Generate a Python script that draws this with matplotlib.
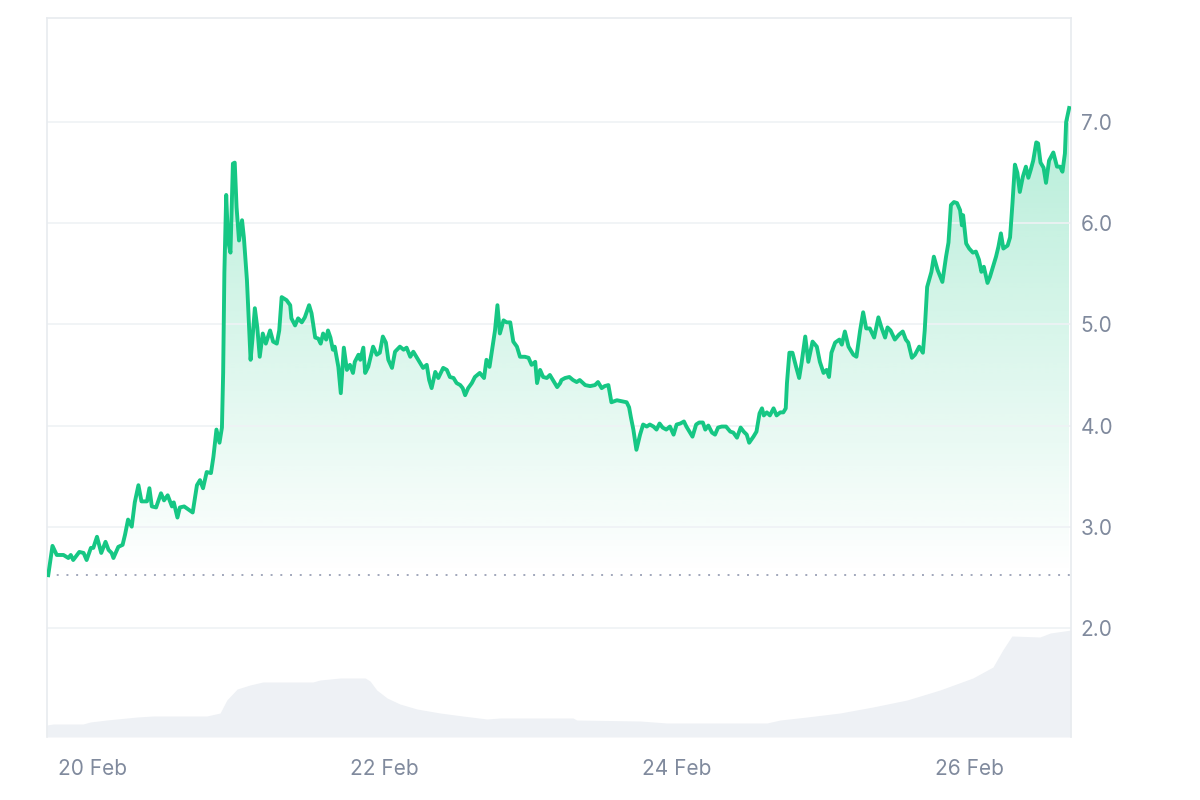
import numpy as np
import pandas as pd
import matplotlib
matplotlib.use('Agg')
import matplotlib.pyplot as plt
import matplotlib.dates as mdates
from matplotlib.patches import PathPatch

plt.rcParams['font.family'] = ['Inter', 'DejaVu Sans']

# 7 day price chart, hours since the first sample
start = pd.Timestamp('2024-02-19 16:37')

price_hours = [
    0.2, 0.9, 1.6, 2.7, 3.5, 3.9, 4.3, 5.3, 6.0, 6.5, 7.2, 7.6, 8.2, 8.9, 9.6, 10.1,
    10.6, 10.9, 11.7, 12.4, 12.8, 13.3, 13.9, 14.4, 15.0, 15.5, 16.4, 16.8, 17.2, 17.9,
    18.7, 19.2, 19.8, 20.5, 20.8, 21.4, 21.8, 22.5, 23.2, 23.9, 24.6, 25.1, 25.6, 26.2,
    26.9, 27.3, 27.8, 28.3, 28.7, 28.9, 29.1, 29.4, 29.7, 30.1, 30.5, 30.8, 31.1, 31.5,
    32.0, 32.3, 32.8, 33.4, 33.7, 34.1, 34.5, 34.9, 35.4, 35.9, 36.6, 37.1, 37.7, 38.1,
    38.5, 39.3, 39.9, 40.1, 40.7, 41.2, 41.8, 42.3, 43.0, 43.4, 44.0, 44.5, 44.9, 45.3,
    45.8, 46.1, 46.5, 46.9, 47.2, 47.8, 48.2, 48.7, 49.2, 49.7, 50.2, 50.5, 51.1, 51.4,
    51.9, 52.2, 52.7, 53.5, 54.1, 54.6, 55.1, 55.6, 56.0, 56.6, 57.1, 57.9, 58.5, 59.0,
    59.6, 60.1, 60.7, 61.2, 61.7, 62.3, 62.7, 63.1, 63.7, 64.2, 65.0, 65.6, 66.1, 66.7,
    67.2, 67.8, 68.2, 68.6, 69.1, 69.7, 70.2, 71.0, 71.7, 72.1, 72.6, 73.1, 73.5, 73.9,
    74.3, 74.9, 75.4, 76.0, 76.5, 77.1, 77.6, 78.4, 79.0, 79.5, 80.1, 80.4, 80.9, 81.4,
    82.0, 82.5, 83.2, 83.7, 84.2, 84.4, 85.0, 85.7, 86.3, 86.9, 87.4, 88.3, 89.1, 89.9,
    90.4, 91.0, 91.5, 92.1, 92.6, 93.5, 94.3, 95.1, 95.5, 95.8, 96.2, 96.7, 97.3, 97.8,
    98.4, 98.9, 99.5, 100.0, 100.5, 101.0, 101.6, 102.2, 102.8, 103.3, 103.9, 104.5,
    104.9, 105.5, 105.9, 106.5, 107.0, 107.6, 108.0, 108.5, 109.1, 109.6, 110.1, 110.7,
    111.4, 112.1, 112.6, 113.2, 113.8, 114.3, 114.8, 115.2, 115.9, 116.4, 116.9, 117.3,
    117.6, 118.1, 118.6, 119.2, 119.7, 120.3, 120.8, 121.2, 121.4, 121.8, 122.3, 122.9,
    123.4, 123.8, 124.4, 124.9, 125.6, 126.3, 126.8, 127.4, 127.9, 128.3, 128.7, 129.3,
    130.0, 130.4, 130.9, 131.5, 132.3, 132.8, 133.4, 133.9, 134.4, 135.0, 135.7, 136.4,
    136.9, 137.5, 137.9, 138.4, 139.1, 139.8, 140.4, 140.9, 141.3, 141.9, 142.4, 143.1,
    143.7, 144.0, 144.4, 145.1, 145.5, 146.1, 146.9, 147.5, 147.9, 148.3, 148.8, 149.3,
    149.8, 150.1, 150.3, 150.8, 151.3, 151.9, 152.4, 152.9, 153.3, 153.7, 154.3, 154.7,
    155.2, 155.7, 156.1, 156.5, 156.9, 157.6, 158.0, 158.4, 158.8, 159.2, 159.6, 160.1,
    160.6, 161.0, 161.4, 161.8, 162.3, 162.6, 163.0, 163.5, 163.9, 164.4, 165.1, 165.7,
    166.2, 166.6, 167.0, 167.2, 167.7,
]
price_values = [
    2.52, 2.81, 2.72, 2.72, 2.69, 2.72, 2.67, 2.75, 2.74, 2.67, 2.79, 2.79, 2.90, 2.74, 2.85, 2.77,
    2.74, 2.69, 2.80, 2.82, 2.92, 3.07, 3.00, 3.24, 3.41, 3.25, 3.25, 3.38, 3.20, 3.19,
    3.33, 3.26, 3.31, 3.20, 3.24, 3.09, 3.19, 3.20, 3.17, 3.14, 3.41, 3.46, 3.38, 3.54,
    3.53, 3.69, 3.96, 3.83, 3.98, 4.52, 5.51, 6.28, 5.83, 5.71, 6.59, 6.60, 6.16, 5.83,
    6.03, 5.86, 5.44, 4.65, 4.85, 5.16, 4.97, 4.68, 4.91, 4.81, 4.94, 4.83, 4.81, 4.94,
    5.27, 5.24, 5.19, 5.06, 4.99, 5.06, 5.02, 5.07, 5.19, 5.11, 4.87, 4.86, 4.81, 4.91,
    4.85, 4.94, 4.87, 4.75, 4.78, 4.58, 4.32, 4.77, 4.55, 4.60, 4.52, 4.63, 4.70, 4.65,
    4.77, 4.52, 4.58, 4.78, 4.70, 4.72, 4.88, 4.82, 4.65, 4.57, 4.73, 4.78, 4.75, 4.77,
    4.68, 4.73, 4.67, 4.62, 4.57, 4.60, 4.45, 4.37, 4.53, 4.47, 4.57, 4.55, 4.48, 4.47,
    4.42, 4.40, 4.37, 4.30, 4.37, 4.42, 4.48, 4.52, 4.47, 4.65, 4.58, 4.78, 4.94, 5.19,
    4.91, 5.04, 5.02, 5.02, 4.83, 4.78, 4.68, 4.68, 4.67, 4.60, 4.63, 4.42, 4.55, 4.48,
    4.47, 4.50, 4.43, 4.38, 4.42, 4.45, 4.47, 4.48, 4.45, 4.43, 4.45, 4.40, 4.39, 4.40,
    4.43, 4.37, 4.39, 4.40, 4.23, 4.25, 4.24, 4.23, 4.18, 4.08, 3.96, 3.76, 3.91, 4.01,
    3.99, 4.01, 3.99, 3.96, 4.02, 3.98, 3.96, 3.99, 3.91, 4.01, 4.02, 4.04,
    3.99, 3.93, 3.89, 4.01, 4.03, 4.03, 3.96, 4.00, 3.93, 3.91, 3.98, 3.99,
    3.99, 3.94, 3.93, 3.88, 3.98, 3.94, 3.91, 3.83, 3.89, 3.94, 4.12, 4.17,
    4.10, 4.13, 4.10, 4.17, 4.10, 4.13, 4.13, 4.17, 4.42, 4.72, 4.72, 4.58,
    4.47, 4.62, 4.88, 4.63, 4.83, 4.78, 4.63, 4.52, 4.55, 4.48, 4.72, 4.82,
    4.85, 4.80, 4.93, 4.78, 4.70, 4.68, 4.94, 5.12, 4.96, 4.96, 4.87, 5.07,
    4.97, 4.87, 4.97, 4.94, 4.85, 4.90, 4.93, 4.85, 4.82, 4.67, 4.70, 4.78,
    4.72, 4.94, 5.37, 5.52, 5.67, 5.54, 5.42, 5.67, 5.81, 6.18, 6.21, 6.20,
    6.13, 5.98, 6.08, 5.80, 5.75, 5.71, 5.72, 5.64, 5.52, 5.57, 5.41, 5.47,
    5.57, 5.67, 5.77, 5.90, 5.75, 5.78, 5.86, 6.20, 6.58, 6.50, 6.31, 6.46,
    6.56, 6.45, 6.53, 6.62, 6.80, 6.79, 6.60, 6.55, 6.40, 6.62, 6.70, 6.56,
    6.56, 6.51, 6.69, 7.00, 7.14,
]

# trading volume (relative units)
volume_hours = [
    0.0, 1.0, 5.9, 7.1, 9.8, 14.8, 17.4, 26.2, 28.4, 29.5, 31.2, 33.3, 35.4, 43.6, 44.8,
    48.1, 52.2, 53.0, 54.1, 55.8, 57.9, 60.7, 64.5, 68.2, 72.2, 74.3, 86.3, 86.9, 97.3,
    101.7, 118.1, 120.3, 124.7, 130.1, 135.5, 141.1, 146.5, 151.9, 155.2, 156.8, 158.3,
    162.9, 164.6, 168.0,
]
volume_values = [
    12, 13, 13, 15, 17, 20, 21, 21, 24, 37, 48, 52, 55, 55, 57,
    59, 59, 56, 47, 39, 33, 28, 24, 21, 18, 19, 19, 17, 16,
    14, 14, 17, 20, 24, 30, 37, 47, 59, 70, 87, 101,
    100, 104, 107,
]

open_price = 2.52
y_ticks = [2.0, 3.0, 4.0, 5.0, 6.0, 7.0]

green = '#16c784'
grid_c = '#eff2f5'
text_c = '#808a9d'

t = start + pd.to_timedelta(price_hours, unit='h')
tv = start + pd.to_timedelta(volume_hours, unit='h')
p = np.array(price_values)

fig = plt.figure(figsize=(12, 8), dpi=100)
ax = fig.add_axes([47 / 1200, 63 / 800, 1024 / 1200, 719 / 800])
ax2 = ax.twinx()
ax.set_zorder(ax2.get_zorder() + 1)
ax.patch.set_visible(False)

# volume in the lower band
ax2.fill_between(tv, volume_values, 0, color='#eef1f5', lw=0)
ax2.set_ylim(0, 719)
ax2.set_yticks([])
for s in ax2.spines.values():
    s.set_visible(False)

# gradient fill between price line and opening price
poly = ax.fill_between(t, p, open_price, color='none', lw=0)
path = poly.get_paths()[0]
x0, x1 = mdates.date2num(t[0]), mdates.date2num(t[-1])
grad = np.zeros((256, 1, 4))
grad[:, 0, :3] = matplotlib.colors.to_rgb(green)
grad[:, 0, 3] = np.linspace(0.0, 0.32, 256)
im = ax.imshow(grad, extent=[x0, x1, open_price, p.max()], aspect='auto',
               origin='lower', zorder=1, interpolation='bilinear')
patch = PathPatch(path, transform=ax.transData, facecolor='none', edgecolor='none')
ax.add_patch(patch)
im.set_clip_path(patch)

ax.plot(t, p, color=green, lw=2.8, zorder=3, solid_joinstyle='round')
ax.axhline(open_price, color='#a1a7bb', lw=1.4, ls=(0, (1, 4)), zorder=2)

ax.set_xlim(start, start + pd.Timedelta(hours=168))
ax.set_ylim(0.92, 8.03)

ax.set_yticks(y_ticks)
ax.yaxis.tick_right()
ax.yaxis.set_major_formatter(matplotlib.ticker.FormatStrFormatter('%.1f'))
ax.grid(axis='y', color=grid_c, lw=1.2, zorder=0)
ax.xaxis.set_major_locator(mdates.DayLocator(bymonthday=[20, 22, 24, 26]))
ax.xaxis.set_major_formatter(mdates.DateFormatter('%d %b'))
ax.tick_params(axis='both', length=0, labelsize=15, labelcolor=text_c)
ax.tick_params(axis='y', pad=7)
ax.tick_params(axis='x', pad=16)

for side in ['left', 'right', 'top']:
    ax.spines[side].set_color('#e8ebef')
    ax.spines[side].set_linewidth(1.2)
ax.spines['bottom'].set_visible(False)

fig.savefig('out.png', dpi=100, facecolor='white')
